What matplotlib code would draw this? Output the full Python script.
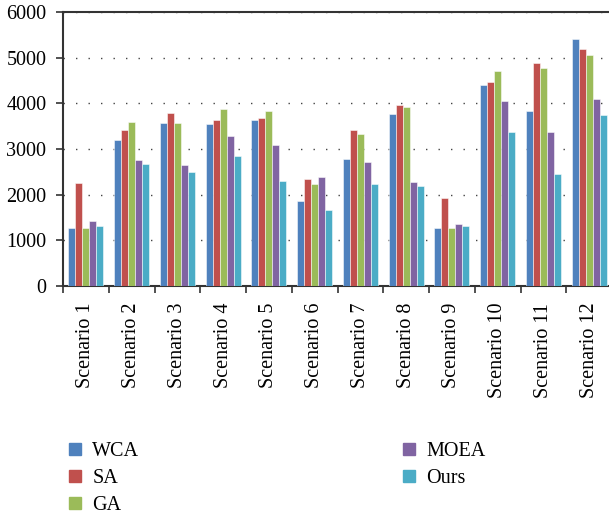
import matplotlib
matplotlib.use("Agg")
import matplotlib.pyplot as plt
import numpy as np
from matplotlib.lines import Line2D

categories = ["Scenario 1", "Scenario 2", "Scenario 3", "Scenario 4", "Scenario 5", "Scenario 6",
              "Scenario 7", "Scenario 8", "Scenario 9", "Scenario 10", "Scenario 11", "Scenario 12"]
series_names = ["WCA", "SA", "GA", "MOEA", "Ours"]
wca  = [1265, 3202, 3560, 3538, 3633, 1871, 2778, 3757, 1265, 4408, 3830, 5402]
sa   = [2251, 3406, 3779, 3633, 3677, 2354, 3421, 3955, 1937, 4466, 4883, 5190]
ga   = [1265, 3589, 3560, 3874, 3838, 2237, 3333, 3925, 1265, 4708, 4781, 5051]
moea = [1433, 2770, 2654, 3275, 3092, 2376, 2705, 2281, 1367, 4050, 3363, 4086]
ours = [1308, 2668, 2500, 2851, 2295, 1674, 2244, 2193, 1316, 3370, 2456, 3743]
yticks = [0, 1000, 2000, 3000, 4000, 5000, 6000]

colors = ["#4F81BD", "#C0504D", "#9BBB59", "#8064A2", "#4BACC6"]
series = [wca, sa, ga, moea, ours]

FS = 14.5
plt.rcParams['font.family'] = ['Liberation Serif', 'DejaVu Serif']
fig = plt.figure(figsize=(6.09, 5.18), dpi=100)
ax = fig.add_axes([63/609, 1-286/518, (612-63)/609, (286-12)/518])

x = np.arange(len(categories))
bw = 0.153
for i, (vals, c) in enumerate(zip(series, colors)):
    ax.bar(x + (i - 2) * bw, vals, width=bw, color=c, edgecolor=(1, 1, 1, 0.6),
           linewidth=0.6, zorder=3, label=series_names[i])

ax.set_xlim(-0.5, len(categories) - 0.5)
ax.set_ylim(0, 6000)
ax.set_yticks(yticks)
ax.set_yticklabels([str(v) for v in yticks])
ax.set_xticks(np.arange(len(categories) + 1) - 0.5)
ax.set_xticklabels([])
ax.set_xticks(x, minor=True)
ax.set_xticklabels(categories, minor=True, rotation=90, fontsize=FS)
ax.tick_params(axis='x', which='minor', length=0, pad=12)
ax.tick_params(axis='x', which='major', length=5, width=1.2, direction='out', color='#333333')
ax.tick_params(axis='y', length=5, width=1.2, direction='out', labelsize=FS, pad=7, color='#333333')

for s in ['left', 'bottom', 'top', 'right']:
    ax.spines[s].set_linewidth(1.5)
    ax.spines[s].set_color('#333333')

ax.yaxis.grid(True, color='#444444', linestyle=(0, (1, 8)), linewidth=1.0, zorder=0)
ax.set_axisbelow(True)

handles = [Line2D([0], [0], marker='s', linestyle='none', markersize=8,
                  markerfacecolor=c, markeredgecolor=c) for c in colors]
fig.legend(handles, series_names, loc='upper left', bbox_to_anchor=(69/609, 1-442/518),
           ncol=2, frameon=False, fontsize=FS, handlelength=0.6, handletextpad=0.55,
           labelspacing=0.4, columnspacing=13.1, borderaxespad=0, borderpad=0)

fig.savefig("out.png", dpi=100)
